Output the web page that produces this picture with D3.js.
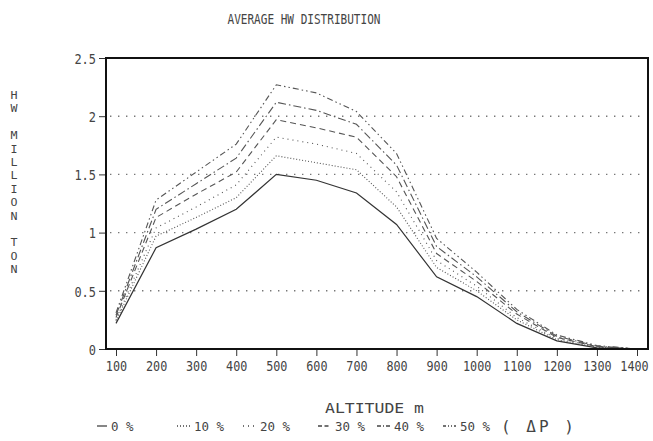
<!DOCTYPE html>
<html>
<head>
<meta charset="utf-8">
<script src="https://cdn.jsdelivr.net/npm/d3@7.9.0/dist/d3.min.js"></script>
<style>
  html, body { margin: 0; padding: 0; background: #fff; }
  svg text { font-family: "DejaVu Sans Mono", monospace; fill: #444; }
</style>
</head>
<body>
<svg id="chart" width="653" height="441"></svg>
<script>
// altitude (m) and HW (million ton) for each precipitation change
const altitudes = [100, 200, 300, 400, 500, 600, 700, 800, 900, 1000, 1100, 1200, 1300, 1400];
const hw0  = [0.22, 0.87, 1.03, 1.20, 1.50, 1.45, 1.34, 1.07, 0.62, 0.45, 0.22, 0.07, 0.010, 0];
const hw10 = [0.24, 0.97, 1.13, 1.30, 1.66, 1.60, 1.54, 1.22, 0.70, 0.50, 0.25, 0.08, 0.015, 0];
const hw20 = [0.25, 1.04, 1.22, 1.41, 1.82, 1.76, 1.68, 1.35, 0.76, 0.54, 0.27, 0.09, 0.020, 0];
const hw30 = [0.27, 1.13, 1.33, 1.52, 1.97, 1.90, 1.82, 1.48, 0.82, 0.58, 0.30, 0.10, 0.020, 0];
const hw40 = [0.29, 1.20, 1.42, 1.64, 2.12, 2.05, 1.93, 1.58, 0.88, 0.62, 0.32, 0.11, 0.025, 0];
const hw50 = [0.31, 1.28, 1.52, 1.76, 2.27, 2.20, 2.04, 1.68, 0.95, 0.66, 0.34, 0.12, 0.030, 0];

const seriesNames = ["0 %", "10 %", "20 %", "30 %", "40 %", "50 %"];
const seriesData  = [hw0, hw10, hw20, hw30, hw40, hw50];
const dashes      = [null, "1,2", "1,4", "6,4", "8,3,1.5,3", "6,3,1.5,3,1.5,3"];
const legendDash  = [null, "1,2", "1,4", "4,2.5", "4,2,1,2", "3,2,1,2,1,2"];

const xTicks = altitudes;
const yTicks = [0, 0.5, 1, 1.5, 2, 2.5];
const yTickLabels = ["0", "0.5", "1", "1.5", "2", "2.5"];
const yTitle = ["H", "W", "", "M", "I", "L", "L", "I", "O", "N", "", "T", "O", "N"];

const svg = d3.select("#chart");

const x = d3.scaleLinear().domain([100, 1400]).range([116, 637]);
const y = d3.scaleLinear().domain([0, 2.5]).range([349, 58]);
const frame = { left: 106, right: 648, top: 58, bottom: 349 };

// plotter lettering is tall and narrow: squeeze each string to a set width per char
function condense(sel, perChar) {
  sel.each(function () {
    const t = d3.select(this);
    t.attr("textLength", t.text().length * perChar).attr("lengthAdjust", "spacingAndGlyphs");
  });
}

// title
svg.append("text")
  .attr("x", 304).attr("y", 24)
  .attr("text-anchor", "middle")
  .attr("font-size", 14.5)
  .text("AVERAGE HW DISTRIBUTION")
  .call(condense, 6.65);

// dotted grid lines
svg.append("g")
  .selectAll("line")
  .data([0.5, 1, 1.5, 2])
  .join("line")
  .attr("x1", frame.left + 4).attr("x2", frame.right - 4)
  .attr("y1", d => y(d)).attr("y2", d => y(d))
  .attr("stroke", "#777")
  .attr("stroke-width", 1.4)
  .attr("stroke-dasharray", "1.4,6.6");

// y axis
const yAxis = svg.append("g")
  .attr("transform", `translate(${frame.left},0)`)
  .call(d3.axisLeft(y).tickValues(yTicks).tickSize(7).tickPadding(3)
    .tickFormat((d, i) => yTickLabels[i]));
yAxis.select(".domain").remove();
yAxis.selectAll("line").attr("stroke", "#333");
yAxis.selectAll("text")
  .attr("font-size", 14.5).attr("font-family", "DejaVu Sans Mono").attr("fill", "#444")
  .attr("dy", "0.36em")
  .call(condense, 7.2);

// x axis
const xAxis = svg.append("g")
  .attr("transform", `translate(0,${frame.bottom})`)
  .call(d3.axisBottom(x).tickValues(xTicks).tickSize(7).tickPadding(6)
    .tickFormat(d => String(d)));
xAxis.select(".domain").remove();
xAxis.selectAll("line").attr("stroke", "#333");
xAxis.selectAll("text")
  .attr("font-size", 14).attr("font-family", "DejaVu Sans Mono").attr("fill", "#444")
  .attr("dy", "0.66em")
  .attr("dx", d => d === 1400 ? -3 : 0)
  .call(condense, 7.1);

// curves
const line = d3.line()
  .x((d, i) => x(altitudes[i]))
  .y(d => y(d));

svg.append("g")
  .selectAll("path")
  .data(seriesData)
  .join("path")
  .attr("d", d => line(d))
  .attr("fill", "none")
  .attr("stroke", (d, i) => i === 0 ? "#333" : "#555")
  .attr("stroke-width", (d, i) => i === 0 ? 1.2 : 1.1)
  .attr("stroke-dasharray", (d, i) => dashes[i]);

// frame
svg.append("rect")
  .attr("x", frame.left).attr("y", frame.top)
  .attr("width", frame.right - frame.left)
  .attr("height", frame.bottom - frame.top)
  .attr("fill", "none")
  .attr("stroke", "#111")
  .attr("stroke-width", 2);

// vertical y title
svg.append("g")
  .selectAll("text")
  .data(yTitle)
  .join("text")
  .attr("x", 14)
  .attr("y", (d, i) => 99 + i * 13.4)
  .attr("text-anchor", "middle")
  .attr("font-size", 11)
  .text(d => d)
  .filter(d => d !== "")
  .call(condense, 7);

// x title
svg.append("text")
  .attr("x", 325).attr("y", 413)
  .attr("font-size", 14)
  .text("ALTITUDE  m")
  .call(condense, 9);

// legend
const legendX = [97, 177, 243, 318, 377, 443];
const legend = svg.append("g")
  .selectAll("g")
  .data(seriesNames)
  .join("g")
  .attr("transform", (d, i) => `translate(${legendX[i]},431)`);

legend.append("line")
  .attr("x1", 0).attr("x2", (d, i) => i === 0 ? 10 : 13)
  .attr("y1", -5).attr("y2", -5)
  .attr("stroke", "#444")
  .attr("stroke-width", 1.3)
  .attr("stroke-dasharray", (d, i) => legendDash[i]);

legend.append("text")
  .attr("x", (d, i) => i === 0 ? 14 : 17)
  .attr("font-size", 13)
  .text(d => d)
  .call(condense, 7.5);

svg.append("text")
  .attr("x", 501).attr("y", 432)
  .attr("font-size", 16)
  .attr("font-family", "DejaVu Sans")
  .attr("letter-spacing", 3)
  .text("( ΔP )");
</script>
</body>
</html>
